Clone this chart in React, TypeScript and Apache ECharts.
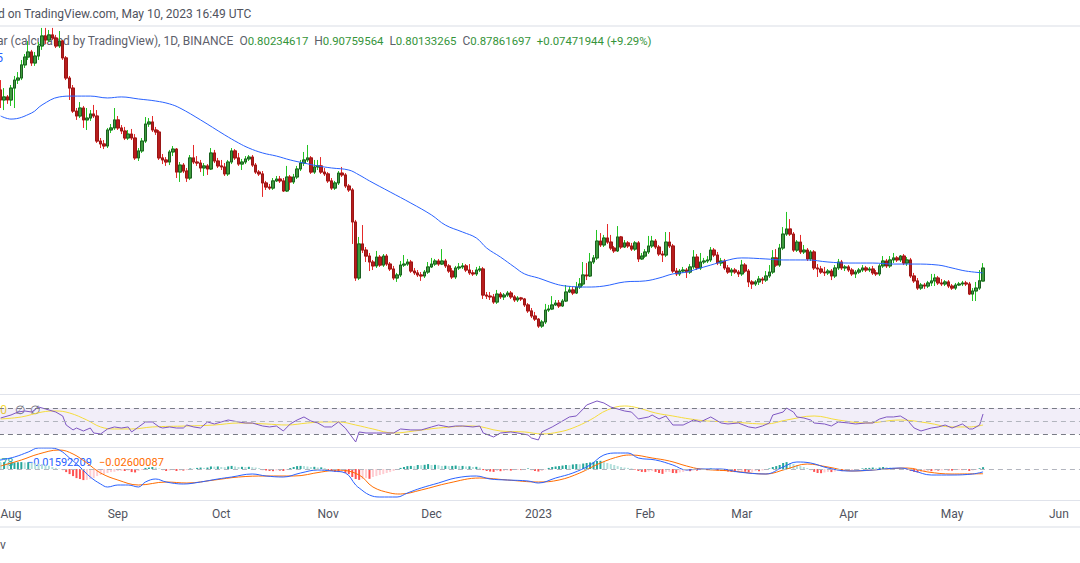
import React, { useEffect, useRef } from "react";
import * as echarts from "echarts";

// ---------- categories (daily, from 2022-07-29) ----------
const START = Date.UTC(2022, 6, 29);
const SLOTS = 315;
const DAY = 86400000;
const categories: string[] = Array.from({ length: SLOTS }, (_, k) =>
  new Date(START + k * DAY).toISOString().slice(0, 10)
);
const monthNames = ["2023", "Feb", "Mar", "Apr", "May", "Jun", "Jul", "Aug", "Sep", "Oct", "Nov", "Dec"];

// ---------- daily candles ----------
const firstOpen = 1.924;
const lastOpen = 0.80234617;
const closes = [
  1.865, 1.883, 1.865, 1.935, 1.982, 1.994, 2.071, 2.117, 2.147, 2.082,
  2.123, 2.182, 2.241, 2.217, 2.247, 2.229, 2.182, 2.211, 2.112, 1.994,
  1.935, 1.800, 1.771, 1.818, 1.748, 1.759, 1.783, 1.771, 1.624, 1.607,
  1.595, 1.689, 1.701, 1.748, 1.701, 1.683, 1.642, 1.665, 1.642, 1.525,
  1.566, 1.624, 1.724, 1.736, 1.689, 1.677, 1.525, 1.513, 1.501, 1.560,
  1.577, 1.442, 1.483, 1.448, 1.407, 1.525, 1.501, 1.495, 1.466, 1.478,
  1.460, 1.554, 1.507, 1.478, 1.472, 1.431, 1.501, 1.566, 1.525, 1.489,
  1.501, 1.519, 1.530, 1.483, 1.442, 1.431, 1.378, 1.354, 1.348, 1.390,
  1.401, 1.390, 1.331, 1.413, 1.384, 1.413, 1.460, 1.495, 1.513, 1.525,
  1.442, 1.472, 1.478, 1.442, 1.431, 1.390, 1.348, 1.378, 1.436, 1.425,
  1.360, 1.337, 1.149, 0.820, 1.020, 0.984, 0.949, 0.914, 0.891, 0.943,
  0.896, 0.949, 0.902, 0.873, 0.820, 0.838, 0.896, 0.902, 0.914, 0.861,
  0.850, 0.838, 0.832, 0.855, 0.885, 0.902, 0.920, 0.902, 0.920, 0.891,
  0.861, 0.826, 0.879, 0.885, 0.891, 0.867, 0.850, 0.844, 0.867, 0.873,
  0.720, 0.714, 0.709, 0.679, 0.726, 0.709, 0.720, 0.732, 0.709, 0.691,
  0.703, 0.697, 0.662, 0.627, 0.597, 0.579, 0.538, 0.562, 0.632, 0.638,
  0.662, 0.673, 0.656, 0.685, 0.738, 0.750, 0.732, 0.767, 0.785, 0.838,
  0.832, 0.914, 0.938, 1.037, 1.014, 1.055, 1.031, 0.996, 0.979, 1.061,
  1.002, 1.026, 1.008, 0.990, 1.026, 0.932, 0.949, 0.973, 1.008, 1.037,
  1.002, 0.961, 0.955, 1.031, 1.008, 0.861, 0.844, 0.861, 0.867, 0.855,
  0.885, 0.943, 0.879, 0.914, 0.920, 0.926, 0.984, 0.955, 0.908, 0.920,
  0.879, 0.855, 0.867, 0.855, 0.844, 0.896, 0.861, 0.797, 0.785, 0.797,
  0.814, 0.808, 0.832, 0.855, 0.938, 0.896, 0.996, 1.078, 1.108, 1.078,
  0.984, 1.031, 0.973, 0.984, 0.932, 0.973, 0.879, 0.873, 0.855, 0.850,
  0.861, 0.832, 0.879, 0.914, 0.879, 0.885, 0.867, 0.844, 0.855, 0.867,
  0.879, 0.867, 0.873, 0.850, 0.844, 0.891, 0.920, 0.891, 0.926, 0.938,
  0.926, 0.949, 0.908, 0.926, 0.832, 0.803, 0.761, 0.779, 0.773, 0.791,
  0.803, 0.820, 0.791, 0.785, 0.797, 0.773, 0.761, 0.779, 0.785, 0.791,
  0.785, 0.726, 0.744, 0.761, 0.80389753, 0.87861697,
];
const highs = [
  1.982, 1.935, 1.894, 1.953, 2.006, 2.029, 2.100, 2.135, 2.211, 2.159,
  2.147, 2.205, 2.288, 2.288, 2.276, 2.288, 2.247, 2.270, 2.217, 2.123,
  2.006, 1.953, 1.818, 1.853, 1.830, 1.818, 1.806, 1.836, 1.806, 1.642,
  1.630, 1.701, 1.724, 1.818, 1.771, 1.718, 1.707, 1.689, 1.695, 1.665,
  1.583, 1.642, 1.765, 1.759, 1.771, 1.707, 1.689, 1.548, 1.530, 1.572,
  1.595, 1.583, 1.501, 1.495, 1.466, 1.542, 1.601, 1.536, 1.513, 1.495,
  1.489, 1.583, 1.572, 1.525, 1.513, 1.495, 1.513, 1.583, 1.577, 1.554,
  1.519, 1.536, 1.542, 1.542, 1.495, 1.454, 1.448, 1.390, 1.372, 1.407,
  1.419, 1.419, 1.407, 1.478, 1.425, 1.431, 1.478, 1.513, 1.560, 1.601,
  1.536, 1.513, 1.513, 1.530, 1.466, 1.442, 1.407, 1.390, 1.448, 1.472,
  1.436, 1.372, 1.348, 1.161, 1.061, 1.131, 1.002, 0.967, 0.926, 0.979,
  0.955, 0.961, 0.961, 0.914, 0.891, 0.850, 0.920, 0.955, 0.932, 0.926,
  0.879, 0.867, 0.855, 0.867, 0.914, 0.938, 0.932, 0.932, 0.990, 0.932,
  0.902, 0.879, 0.891, 0.908, 0.908, 0.902, 0.902, 0.867, 0.885, 0.891,
  0.885, 0.738, 0.738, 0.726, 0.750, 0.738, 0.732, 0.744, 0.744, 0.720,
  0.714, 0.709, 0.703, 0.673, 0.644, 0.621, 0.585, 0.574, 0.668, 0.662,
  0.714, 0.691, 0.691, 0.697, 0.779, 0.773, 0.767, 0.797, 0.820, 0.914,
  0.908, 0.967, 0.955, 1.102, 1.084, 1.073, 1.137, 1.073, 1.008, 1.125,
  1.067, 1.043, 1.037, 1.026, 1.037, 1.037, 0.967, 0.990, 1.067, 1.067,
  1.049, 1.014, 0.979, 1.090, 1.090, 1.020, 0.879, 0.873, 0.885, 0.879,
  0.902, 0.984, 0.961, 0.967, 0.938, 0.949, 1.002, 0.996, 0.973, 0.938,
  0.932, 0.896, 0.879, 0.879, 0.867, 0.926, 0.908, 0.873, 0.808, 0.808,
  0.832, 0.826, 0.861, 0.896, 0.984, 0.990, 1.020, 1.119, 1.208, 1.166,
  1.090, 1.043, 1.073, 1.014, 0.996, 0.984, 0.984, 0.902, 0.891, 0.885,
  0.873, 0.873, 0.896, 0.932, 0.926, 0.896, 0.896, 0.879, 0.867, 0.879,
  0.896, 0.891, 0.885, 0.891, 0.867, 0.902, 0.949, 0.932, 0.949, 0.967,
  0.949, 0.955, 0.961, 0.943, 0.938, 0.850, 0.820, 0.791, 0.791, 0.803,
  0.844, 0.844, 0.832, 0.814, 0.808, 0.808, 0.785, 0.791, 0.797, 0.803,
  0.803, 0.797, 0.761, 0.797, 0.867, 0.90759564,
];
const lows = [
  1.818, 1.806, 1.842, 1.830, 1.818, 1.959, 1.982, 2.053, 2.100, 2.065,
  2.065, 2.100, 2.159, 2.194, 2.205, 2.217, 2.170, 2.170, 2.100, 1.982,
  1.865, 1.789, 1.748, 1.759, 1.701, 1.689, 1.742, 1.759, 1.613, 1.583,
  1.577, 1.583, 1.671, 1.689, 1.689, 1.665, 1.630, 1.630, 1.630, 1.513,
  1.507, 1.554, 1.613, 1.707, 1.677, 1.660, 1.513, 1.489, 1.478, 1.483,
  1.536, 1.407, 1.384, 1.436, 1.384, 1.395, 1.489, 1.478, 1.442, 1.419,
  1.425, 1.454, 1.495, 1.466, 1.454, 1.419, 1.419, 1.489, 1.513, 1.478,
  1.454, 1.489, 1.507, 1.472, 1.431, 1.419, 1.296, 1.337, 1.337, 1.337,
  1.384, 1.378, 1.325, 1.325, 1.337, 1.372, 1.401, 1.448, 1.478, 1.501,
  1.431, 1.431, 1.454, 1.431, 1.419, 1.378, 1.337, 1.337, 1.366, 1.413,
  1.348, 1.325, 1.020, 0.803, 0.808, 0.967, 0.914, 0.861, 0.867, 0.879,
  0.885, 0.885, 0.891, 0.861, 0.808, 0.797, 0.826, 0.885, 0.891, 0.850,
  0.838, 0.826, 0.803, 0.820, 0.844, 0.879, 0.891, 0.891, 0.896, 0.879,
  0.850, 0.814, 0.814, 0.867, 0.873, 0.855, 0.838, 0.832, 0.832, 0.855,
  0.697, 0.697, 0.691, 0.668, 0.668, 0.697, 0.691, 0.709, 0.697, 0.679,
  0.679, 0.685, 0.650, 0.615, 0.585, 0.568, 0.527, 0.527, 0.550, 0.621,
  0.632, 0.656, 0.644, 0.650, 0.679, 0.732, 0.720, 0.726, 0.756, 0.773,
  0.808, 0.826, 0.902, 0.926, 1.002, 1.002, 1.020, 0.984, 0.967, 0.973,
  0.990, 0.996, 0.996, 0.979, 0.979, 0.914, 0.926, 0.938, 0.961, 0.996,
  0.990, 0.949, 0.914, 0.943, 0.996, 0.850, 0.832, 0.832, 0.850, 0.820,
  0.844, 0.873, 0.867, 0.867, 0.902, 0.908, 0.914, 0.943, 0.896, 0.891,
  0.867, 0.844, 0.832, 0.844, 0.826, 0.832, 0.850, 0.767, 0.756, 0.773,
  0.779, 0.785, 0.797, 0.820, 0.844, 0.885, 0.885, 0.984, 1.067, 1.067,
  0.973, 0.973, 0.961, 0.961, 0.920, 0.920, 0.867, 0.826, 0.844, 0.832,
  0.838, 0.808, 0.820, 0.867, 0.867, 0.861, 0.855, 0.832, 0.820, 0.844,
  0.855, 0.855, 0.855, 0.838, 0.832, 0.832, 0.879, 0.879, 0.879, 0.908,
  0.914, 0.914, 0.896, 0.891, 0.820, 0.791, 0.750, 0.750, 0.756, 0.761,
  0.773, 0.773, 0.779, 0.773, 0.773, 0.761, 0.750, 0.750, 0.773, 0.773,
  0.773, 0.720, 0.685, 0.685, 0.750, 0.80133265,
];

// ---------- moving average on price (read at sample days) ----------
const maPoints: [number, number][] = [
  [0, 1.771], [3, 1.753], [9, 1.789], [12, 1.836], [17, 1.883], [21, 1.888], [26, 1.888], [31, 1.877],
  [35, 1.883], [40, 1.871], [45, 1.859], [49, 1.842], [52, 1.818], [58, 1.748], [65, 1.66], [69, 1.613],
  [72, 1.583], [76, 1.554], [80, 1.536], [84, 1.513], [88, 1.495], [92, 1.478], [96, 1.466], [101, 1.454],
  [104, 1.425], [107, 1.39], [113, 1.325], [119, 1.26], [125, 1.19], [129, 1.131], [134, 1.09], [138, 1.055],
  [141, 0.996], [145, 0.943], [149, 0.885], [152, 0.844], [156, 0.82], [161, 0.785], [164, 0.773], [170, 0.767],
  [175, 0.773], [181, 0.797], [187, 0.803], [191, 0.82], [195, 0.844], [199, 0.855], [202, 0.873], [206, 0.896],
  [210, 0.92], [215, 0.938], [222, 0.932], [227, 0.926], [234, 0.926], [240, 0.914], [246, 0.908], [253, 0.908],
  [259, 0.902], [265, 0.902], [272, 0.896], [276, 0.879], [280, 0.861], [285, 0.85],
];

// ---------- RSI ----------
const rsiPoints: [number, number][] = [
  [0, 54.6], [3, 59.2], [5, 63.8], [7, 65.4], [9, 63.8], [11, 71.5], [13, 68.5], [16, 63.8], [18, 57.7], [19, 43.8],
  [21, 36.2], [22, 39.2], [24, 34.6], [26, 39.2], [27, 31.5], [29, 30], [31, 37.7], [33, 40.8], [35, 39.2], [37, 40.8],
  [38, 33.1], [40, 40.8], [42, 48.5], [44, 48.5], [46, 40.8], [47, 39.2], [49, 40.8], [51, 39.2], [53, 39.2], [54, 43.8],
  [56, 40.8], [58, 39.2], [60, 48.5], [62, 45.4], [64, 48.5], [66, 51.5], [69, 48.5], [71, 46.9], [73, 46.9], [76, 42.3],
  [78, 40.8], [80, 42.3], [82, 34.6], [84, 45.4], [86, 51.5], [88, 56.2], [90, 50], [92, 46.9], [94, 40.8], [96, 40.8],
  [98, 48.5], [100, 39], [103, 17.7], [104, 33.1], [106, 31.5], [109, 31.5], [112, 31.5], [114, 31.5], [116, 37.7], [119, 36.2],
  [122, 36.2], [125, 40.8], [127, 43.8], [130, 40.8], [132, 42.3], [134, 42.3], [137, 40.8], [139, 42.3], [140, 31.5], [143, 25.4],
  [145, 31.5], [148, 33.1], [150, 31.5], [153, 28.5], [154, 23.8], [156, 20.8], [157, 33.1], [160, 40.8], [162, 46.9], [165, 56.2],
  [167, 57.7], [169, 68.5], [170, 74.6], [173, 80.8], [175, 77.7], [177, 71.5], [178, 70], [181, 65.4], [183, 63.8], [185, 53.1],
  [188, 56.2], [189, 59.2], [191, 53.1], [193, 57.7], [195, 43.8], [198, 43.8], [201, 51.5], [203, 48.5], [206, 56.2], [209, 46.9],
  [211, 45.4], [214, 46.9], [217, 40.8], [219, 39.2], [221, 42.3], [223, 46.9], [224, 59.2], [227, 63.8], [228, 70], [230, 63.8],
  [231, 56.2], [233, 54.6], [235, 51.5], [236, 46.9], [239, 45.4], [241, 42.3], [243, 48.5], [246, 46.9], [248, 45.4], [251, 46.9],
  [253, 46.9], [255, 53.1], [257, 56.2], [259, 56.2], [261, 57.7], [263, 51.5], [265, 39.2], [267, 34.6], [269, 37.7], [270, 39.2],
  [272, 40.8], [274, 43.8], [276, 39.2], [279, 45.4], [281, 37.7], [282, 37.7], [284, 43.8], [285, 60.8],
];
const rsiMaPoints: [number, number][] = [
  [0, 53.1], [6, 56.2], [12, 63.8], [16, 65.4], [20, 62.3], [25, 51.5], [29, 40.8], [33, 37.7], [38, 37.7], [44, 40.8],
  [54, 42.3], [62, 43.8], [69, 46.9], [77, 45.4], [83, 43.8], [89, 46.9], [94, 48.5], [98, 48.5], [103, 43.8], [108, 37.7],
  [114, 31.5], [120, 34.6], [127, 39.2], [137, 42.3], [145, 34.6], [152, 33.1], [157, 30], [162, 33.1], [166, 39.2], [171, 51.5],
  [176, 66.9], [181, 73.1], [185, 70], [190, 62.3], [195, 57.7], [200, 53.1], [205, 50], [212, 48.5], [222, 45.4], [228, 51.5],
  [236, 57.7], [243, 51.5], [251, 46.9], [261, 51.5], [269, 46.9], [276, 40.8], [281, 40.8], [285, 43.8],
];

// ---------- MACD ----------
const macdPoints: [number, number][] = [
  [0, 0.0495], [4, 0.066], [8, 0.0935], [11, 0.1155], [14, 0.1155], [17, 0.1045], [20, 0.0605], [23, 0.011], [26, -0.044], [29, -0.0825],
  [31, -0.099], [34, -0.088], [37, -0.088], [40, -0.099], [42, -0.0715], [45, -0.055], [48, -0.0715], [53, -0.0825], [58, -0.0715], [63, -0.055],
  [67, -0.044], [73, -0.0275], [77, -0.0385], [82, -0.044], [87, -0.022], [92, -0.0055], [96, -0.011], [100, -0.022], [103, -0.088], [104, -0.1045],
  [107, -0.143], [110, -0.154], [115, -0.154], [118, -0.132], [122, -0.1045], [127, -0.077], [132, -0.0495], [138, -0.0385], [142, -0.055], [147, -0.0605],
  [153, -0.066], [156, -0.077], [161, -0.0495], [166, -0.022], [171, 0.022], [175, 0.077], [179, 0.088], [182, 0.088], [185, 0.0605], [190, 0.0495],
  [195, 0.022], [199, -0.0055], [203, 0], [209, 0], [214, -0.0165], [222, -0.0275], [227, 0.011], [231, 0.0385], [235, 0.033], [240, 0.0055],
  [246, -0.011], [253, -0.0055], [261, 0.0055], [265, -0.011], [270, -0.033], [276, -0.033], [282, -0.0275], [285, -0.01592209],
];
const signalPoints: [number, number][] = [
  [0, 0.0165], [6, 0.0495], [11, 0.0825], [17, 0.1045], [21, 0.0825], [25, 0.033], [29, -0.022], [34, -0.0605], [40, -0.088], [48, -0.0715],
  [54, -0.077], [62, -0.0605], [69, -0.044], [77, -0.0385], [85, -0.0385], [93, -0.0165], [98, -0.0055], [104, -0.033], [108, -0.099], [113, -0.132],
  [116, -0.1375], [122, -0.1155], [130, -0.077], [139, -0.0495], [147, -0.0605], [156, -0.0715], [162, -0.0605], [168, -0.022], [174, 0.033], [180, 0.0715],
  [183, 0.077], [189, 0.0605], [194, 0.044], [199, 0.0165], [203, 0], [212, -0.011], [222, -0.0275], [228, 0], [234, 0.0275], [240, 0.011],
  [247, -0.011], [257, 0], [263, 0.0055], [269, -0.0165], [276, -0.0275], [285, -0.02600087],
];
const hist = [
  0.036, 0.038, 0.034, 0.035, 0.036, 0.037, 0.038, 0.036, 0.037, 0.034,
  0.031, 0.029, 0.027, 0.023, 0.018, 0.011, 0.006, 0.002, -0.006, -0.017,
  -0.028, -0.039, -0.05, -0.055, -0.061, -0.06, -0.055, -0.05, -0.039, -0.033,
  -0.028, -0.022, -0.017, -0.015, -0.011, -0.01, -0.011, -0.008, -0.017, -0.019,
  -0.011, -0.005, 0.006, 0.008, 0.011, 0.008, 0.003, -0.006, -0.011, -0.008,
  -0.006, -0.011, -0.008, -0.009, -0.006, 0.003, 0.002, 0.006, 0.008, 0.006,
  0.008, 0.014, 0.013, 0.014, 0.011, 0.01, 0.014, 0.017, 0.014, 0.011,
  0.012, 0.011, 0.012, 0.01, 0.008, 0.005, -0.006, -0.008, -0.011, -0.012,
  -0.008, -0.009, -0.011, -0.005, 0.005, 0.011, 0.016, 0.017, 0.016, 0.014,
  0.011, 0.012, 0.008, 0.009, 0.005, -0.006, -0.011, -0.016, -0.017, -0.014,
  -0.022, -0.028, -0.044, -0.055, -0.06, -0.055, -0.05, -0.054, -0.044, -0.039,
  -0.033, -0.028, -0.022, -0.017, -0.011, -0.005, 0.006, 0.011, 0.016, 0.017,
  0.016, 0.022, 0.021, 0.023, 0.027, 0.022, 0.023, 0.021, 0.017, 0.018,
  0.016, 0.017, 0.019, 0.016, 0.017, 0.014, 0.015, 0.011, 0.012, 0.008,
  -0.006, -0.011, -0.014, -0.016, -0.011, -0.012, -0.011, -0.008, -0.009, -0.006,
  -0.005, -0.006, -0.003, 0.003, -0.006, -0.011, -0.014, -0.011, -0.003, 0.006,
  0.011, 0.014, 0.016, 0.019, 0.022, 0.021, 0.025, 0.027, 0.026, 0.03,
  0.033, 0.036, 0.039, 0.044, 0.045, 0.038, 0.033, 0.027, 0.022, 0.016,
  0.011, 0.008, 0.006, 0.003, -0.003, -0.011, -0.016, -0.017, -0.014, -0.011,
  -0.016, -0.022, -0.027, -0.017, -0.016, -0.022, -0.023, -0.019, -0.016, -0.011,
  -0.012, -0.008, -0.009, -0.006, -0.005, -0.006, 0.003, -0.005, -0.008, -0.009,
  -0.011, -0.014, -0.016, -0.017, -0.016, -0.014, -0.015, -0.017, -0.016, -0.011,
  -0.012, -0.008, -0.005, 0.003, 0.011, 0.016, 0.022, 0.033, 0.038, 0.033,
  0.028, 0.022, 0.016, 0.011, 0.005, -0.006, -0.016, -0.022, -0.023, -0.019,
  -0.016, -0.017, -0.014, -0.011, -0.012, -0.008, -0.009, -0.006, -0.005, -0.003,
  0.003, 0.005, 0.006, 0.008, 0.006, 0.008, 0.011, 0.01, 0.008, 0.006,
  0.005, 0.003, 0.002, -0.003, -0.011, -0.016, -0.019, -0.016, -0.014, -0.011,
  -0.012, -0.008, -0.009, -0.008, -0.006, -0.008, -0.009, -0.006, -0.005, -0.006,
  -0.005, -0.011, -0.008, -0.005, 0.004, 0.01007878,
];

// ---------- layout / style constants ----------
const FONT = "Roboto, 'Noto Sans', sans-serif";
const OX = 20; // chart div is shifted 20px left of the page
const STEP = 3.447;
const GRID_LEFT = OX + 0.66 - STEP / 2;
const GRID_WIDTH = SLOTS * STEP;

const sparse = (pts: [number, number][]) => {
  const arr: (number | null)[] = new Array(SLOTS).fill(null);
  pts.forEach(([i, v]) => (arr[i] = v));
  return arr;
};

function buildOption() {
  const opens = closes.map((c, i) => (i === 0 ? firstOpen : i === closes.length - 1 ? lastOpen : closes[i - 1]));
  const ohlc = closes.map((c, i) => [opens[i], c, lows[i], highs[i]]);
  const bodies = closes.map((c, i) => [opens[i], c, Math.min(opens[i], c), Math.max(opens[i], c)]);
  const histData = hist.map((v, i) => {
    const p = i > 0 ? hist[i - 1] : v;
    let color;
    if (v >= 0) color = p < v ? "#26a69a" : "#b2dfdb";
    else color = p > v ? "#ff5252" : "#ffcdd2";
    return { value: v, itemStyle: { color } };
  });

  const grids = [
    { left: GRID_LEFT, width: GRID_WIDTH, top: 27, height: 366 },
    { left: GRID_LEFT, width: GRID_WIDTH, top: 395, height: 51 },
    { left: GRID_LEFT, width: GRID_WIDTH, top: 448, height: 52 },
  ];
  const xAxes = [0, 1, 2].map((g) => ({
    type: "category",
    gridIndex: g,
    data: categories,
    boundaryGap: true,
    axisLine: { show: false },
    axisTick: { show: false },
    splitLine: { show: false },
    axisLabel:
      g === 2
        ? {
            show: true,
            margin: 8,
            color: "#50535e",
            fontSize: 12,
            fontFamily: FONT,
            interval: (_: number, v: string) => v.slice(8) === "01",
            formatter: (v: string) => monthNames[parseInt(v.slice(5, 7), 10) - 1],
          }
        : { show: false },
  }));
  const yAxes = [
    { gridIndex: 0, min: 0.1451, max: 2.2935, show: false },
    { gridIndex: 1, min: 11.5, max: 90, show: false },
    { gridIndex: 2, min: -0.1705, max: 0.1155, show: false },
  ];

  const text = (x: number, y: number, t: string, fill: string, extra: any = {}) => ({
    type: "text",
    z: 1,
    style: { x: x + OX, y, text: t, fill, fontSize: 12, fontFamily: FONT, verticalAlign: "middle", align: "left", ...extra },
  });
  const hline = (y: number, h: number, fill: string) => ({
    type: "rect",
    z: 0,
    shape: { x: 0, y, width: 1110, height: h },
    style: { fill },
  });

  const graphic = [
    hline(25, 2, "#eceef2"),
    hline(394, 1, "#e0e3eb"),
    hline(447, 1, "#e0e3eb"),
    hline(500, 1, "#e0e3eb"),
    hline(526, 2, "#eceef2"),
    text(-2, 14, "d on TradingView.com, May 10, 2023 16:49 UTC", "#50535e"),
    {
      type: "text",
      z: 1,
      style: {
        x: -3 + OX,
        y: 41,
        text:
          "{g|ar (calculated by TradingView), 1D, BINANCE}  {g|O}{v|0.80234617}  {g|H}{v|0.90759564}  {g|L}{v|0.80133265}  {g|C}{v|0.87861697}  {v|+0.07471944 (+9.29%)}",
        fill: "#5d606b",
        fontSize: 12,
        fontFamily: FONT,
        verticalAlign: "middle",
        align: "left",
        rich: {
          g: { fill: "#5d606b", fontSize: 12, fontFamily: FONT },
          v: { fill: "#35943a", fontSize: 11.4, fontFamily: FONT },
        },
      },
    },
    text(3, 58, "5", "#2962ff", { align: "right" }),
    text(7, 410, "0", "#f2d633", { align: "right" }),
    text(15, 410, "∅", "#6a6d78"),
    text(30, 410, "∅", "#6a6d78"),
    text(13.5, 462, "0.01007878", "#26a69a", { align: "right", fontSize: 11 }),
    text(27, 462, "−0.01592209", "#2962ff", { fontSize: 11 }),
    text(99, 462, "−0.02600087", "#ff6d00", { fontSize: 11 }),
    text(0, 545, "v", "#50535e"),
  ];

  const thin = (color: string, width = 1) => ({ color, width });

  return {
    animation: false,
    backgroundColor: "#ffffff",
    grid: grids,
    xAxis: xAxes,
    yAxis: yAxes,
    graphic,
    series: [
      {
        name: "wicks",
        type: "candlestick",
        xAxisIndex: 0,
        yAxisIndex: 0,
        barWidth: 3,
        z: 3,
        data: ohlc,
        itemStyle: { color: "#22c322", color0: "#e52a2a", borderColor: "#22c322", borderColor0: "#e52a2a", borderWidth: 1 },
      },
      {
        name: "bodies",
        type: "candlestick",
        xAxisIndex: 0,
        yAxisIndex: 0,
        barWidth: 3,
        z: 4,
        data: bodies,
        itemStyle: { color: "#3d9c3d", color0: "#b71c1c", borderColor: "#1b5e20", borderColor0: "#9a1616", borderWidth: 1 },
      },
      {
        name: "MA",
        type: "line",
        xAxisIndex: 0,
        yAxisIndex: 0,
        z: 5,
        data: sparse(maPoints),
        connectNulls: true,
        smooth: 0.4,
        symbol: "none",
        lineStyle: thin("#2962ff"),
      },
      {
        name: "RSI",
        type: "line",
        xAxisIndex: 1,
        yAxisIndex: 1,
        z: 4,
        data: sparse(rsiPoints),
        connectNulls: true,
        symbol: "none",
        lineStyle: thin("#7e57c2"),
        markArea: {
          silent: true,
          itemStyle: { color: "rgba(126,87,194,0.1)" },
          data: [[{ yAxis: 70 }, { yAxis: 30 }]],
        },
        markLine: {
          silent: true,
          symbol: "none",
          label: { show: false },
          data: [
            { yAxis: 70, lineStyle: { color: "#787b86", width: 1, type: [5, 4] } },
            { yAxis: 50, lineStyle: { color: "#b2b5be", width: 1, type: [5, 4] } },
            { yAxis: 30, lineStyle: { color: "#787b86", width: 1, type: [5, 4] } },
          ],
        },
      },
      {
        name: "RSI MA",
        type: "line",
        xAxisIndex: 1,
        yAxisIndex: 1,
        z: 3,
        data: sparse(rsiMaPoints),
        connectNulls: true,
        smooth: 0.4,
        symbol: "none",
        lineStyle: thin("#f5dc3c"),
      },
      {
        name: "Histogram",
        type: "bar",
        xAxisIndex: 2,
        yAxisIndex: 2,
        barWidth: 2,
        z: 2,
        data: histData,
        markLine: {
          silent: true,
          symbol: "none",
          label: { show: false },
          data: [{ yAxis: 0, lineStyle: { color: "#b2b5be", width: 1, type: [5, 4] } }],
        },
      },
      {
        name: "MACD",
        type: "line",
        xAxisIndex: 2,
        yAxisIndex: 2,
        z: 4,
        data: sparse(macdPoints),
        connectNulls: true,
        smooth: 0.4,
        symbol: "none",
        lineStyle: thin("#2962ff"),
      },
      {
        name: "Signal",
        type: "line",
        xAxisIndex: 2,
        yAxisIndex: 2,
        z: 3,
        data: sparse(signalPoints),
        connectNulls: true,
        smooth: 0.4,
        symbol: "none",
        lineStyle: thin("#ff6d00"),
      },
    ],
  };
}

export default function App() {
  const ref = useRef<HTMLDivElement>(null);
  useEffect(() => {
    if (!ref.current) return;
    const chart = echarts.init(ref.current, null, { renderer: "svg" });
    chart.setOption(buildOption() as any);
    return () => chart.dispose();
  }, []);
  return (
    <div style={{ position: "fixed", left: 0, top: 0, width: 1080, height: 563, overflow: "hidden", background: "#ffffff" }}>
      <div ref={ref} style={{ position: "absolute", left: -OX, top: 0, width: 1110, height: 563 }} />
    </div>
  );
}
